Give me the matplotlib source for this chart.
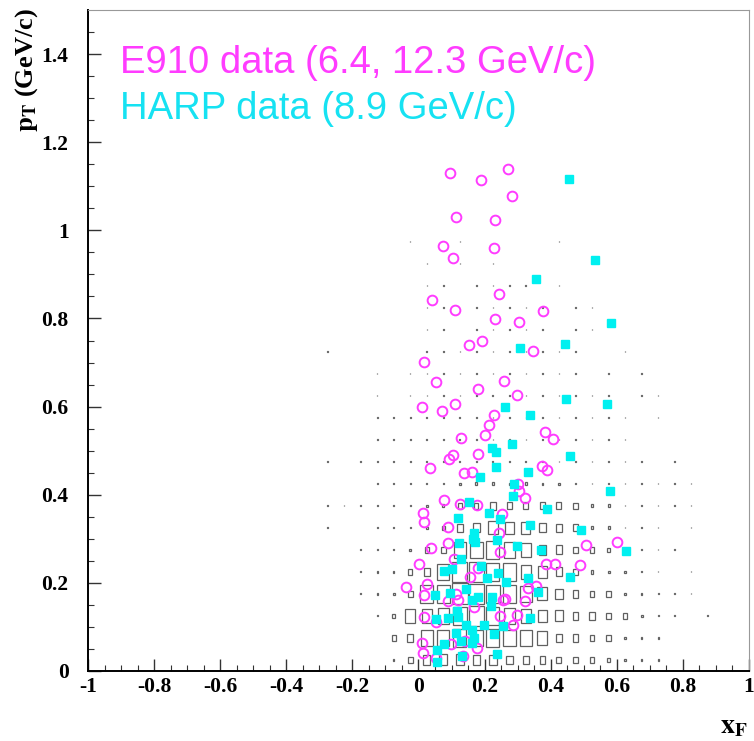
import numpy as np
import matplotlib
matplotlib.use('Agg')
import matplotlib.pyplot as plt
from matplotlib.patches import Rectangle

plt.rcParams['mathtext.fontset'] = 'stix'

# E910 data points (xF, pT)
e910_xf = [0.095, 0.188, 0.271, 0.283, 0.112, 0.231, 0.073, 0.228, 0.103, 0.042,
           0.245, 0.110, 0.231, 0.305, 0.377, 0.152, 0.192, 0.016, 0.345, 0.052,
           0.258, 0.180, 0.297, 0.010, 0.072, 0.109, 0.228, 0.214, 0.201, 0.130,
           0.382, 0.406, 0.103, 0.092, 0.180, 0.036, 0.138, 0.161, 0.373, 0.388,
           0.301, 0.304, 0.321, 0.077, 0.125, 0.176, 0.014, 0.016, 0.254, 0.089,
           0.245, 0.089, 0.039, 0.107, 0.248, 0.002, 0.179, 0.155, 0.026, -0.037,
           0.113, 0.017, 0.119, 0.257, 0.090, 0.168, 0.248, 0.016, 0.299, 0.052,
           0.285, 0.097, 0.142, 0.178, 0.134, 0.010, 0.014, 0.052, 0.507, 0.600,
           0.387, 0.413, 0.488, 0.332, 0.357, 0.321, 0.261]
e910_pt = [1.129, 1.114, 1.139, 1.077, 1.030, 1.023, 0.964, 0.961, 0.937, 0.843,
           0.855, 0.820, 0.798, 0.792, 0.818, 0.740, 0.750, 0.702, 0.727, 0.655,
           0.659, 0.641, 0.627, 0.598, 0.591, 0.605, 0.580, 0.559, 0.535, 0.529,
           0.542, 0.526, 0.491, 0.480, 0.493, 0.460, 0.449, 0.452, 0.466, 0.456,
           0.425, 0.408, 0.393, 0.389, 0.378, 0.377, 0.358, 0.339, 0.357, 0.327,
           0.313, 0.290, 0.280, 0.255, 0.270, 0.243, 0.233, 0.213, 0.197, 0.191,
           0.174, 0.172, 0.161, 0.161, 0.159, 0.145, 0.124, 0.122, 0.126, 0.111,
           0.105, 0.061, 0.067, 0.052, 0.033, 0.063, 0.040, 0.029, 0.286, 0.293,
           0.243, 0.243, 0.240, 0.188, 0.193, 0.159, 0.164]

# HARP data points (xF, pT)
harp_xf = [0.456, 0.534, 0.355, 0.582, 0.307, 0.442, 0.262, 0.447, 0.570, 0.337,
           0.284, 0.223, 0.233, 0.236, 0.458, 0.185, 0.332, 0.289, 0.286, 0.579,
           0.152, 0.214, 0.120, 0.246, 0.390, 0.168, 0.122, 0.166, 0.172, 0.239,
           0.336, 0.491, 0.130, 0.188, 0.077, 0.100, 0.242, 0.208, 0.266, 0.298,
           0.372, 0.627, 0.330, 0.457, 0.363, 0.145, 0.049, 0.094, 0.163, 0.181,
           0.221, 0.218, 0.116, 0.121, 0.054, 0.089, 0.145, 0.199, 0.336, 0.257,
           0.227, 0.163, 0.169, 0.112, 0.130, 0.077, 0.055, 0.161, 0.239, 0.132,
           0.055]
harp_pt = [1.117, 0.932, 0.889, 0.789, 0.733, 0.743, 0.600, 0.618, 0.605, 0.580,
           0.514, 0.505, 0.496, 0.464, 0.488, 0.440, 0.451, 0.424, 0.398, 0.408,
           0.383, 0.358, 0.348, 0.345, 0.368, 0.313, 0.290, 0.299, 0.292, 0.298,
           0.332, 0.319, 0.254, 0.239, 0.227, 0.232, 0.222, 0.212, 0.203, 0.284,
           0.275, 0.272, 0.212, 0.213, 0.180, 0.186, 0.173, 0.177, 0.161, 0.169,
           0.168, 0.148, 0.137, 0.123, 0.118, 0.120, 0.104, 0.104, 0.120, 0.103,
           0.084, 0.092, 0.074, 0.087, 0.069, 0.061, 0.048, 0.063, 0.039, 0.033,
           0.021]

# simulated distribution, relative box size per bin (rows: pT bins, cols: xF bins)
xf_bins = np.arange(-0.275, 0.9, 0.05)
pt_bins = np.arange(0.025, 1.0, 0.05)
box_size = [
    [0, 0, 0, 0, .05, .3, .45, .5, .5, .45, .45, .4, .35, .35, .3, .25, .25, .2, .12, .05, .05, 0, .04, 0],
    [0, 0, 0, 0, .25, .35, .7, .75, .8, .75, .8, .75, .7, .6, .4, .35, .3, .25, .12, .06, .05, 0, .04, 0],
    [0, 0, 0, .04, .18, .6, .6, .7, .85, .9, .8, .7, .65, .55, .5, .35, .35, .3, .25, .12, .05, .04, 0, .04],
    [0, 0, .04, .06, .12, .3, .8, .8, .95, .9, .85, .8, .7, .6, .45, .35, .25, .25, .12, .06, .05, .04, .04, 0],
    [0, 0, .04, .06, .09, .25, .35, .75, .9, .9, .8, .8, .65, .55, .4, .3, .18, .12, .09, .05, .04, 0, .04, 0],
    [0, 0, .04, .05, .06, .09, .25, .3, .7, .75, .8, .7, .65, .45, .4, .25, .25, .18, .06, .05, .04, .04, 0, 0],
    [.04, 0, 0, .05, .05, .05, .09, .18, .35, .4, .6, .55, .55, .4, .35, .3, .12, .12, .05, .05, .04, 0, .04, 0],
    [.04, .03, .03, .04, .04, .05, .09, .12, .25, .25, .35, .33, .3, .3, .3, .25, .12, .12, .05, .04, .03, .03, .03, 0],
    [0, 0, 0, .04, .04, .04, .05, .06, .09, .12, .12, .09, .12, .09, .09, .06, .05, .05, .04, .04, .04, .03, .03, 0],
    [.05, 0, .03, .04, .04, .04, .04, .06, .04, .05, .05, .05, .05, .05, .05, .05, .04, .04, .04, .06, 0, .03, 0, 0],
    [0, 0, 0, .04, .04, .04, .04, .04, .04, .04, .04, .04, .04, .04, .04, .04, .04, .04, .04, 0, 0, 0, 0, 0],
    [0, 0, 0, .05, .04, .04, .04, .04, .04, .04, .04, .04, .04, .04, .04, .04, .04, .04, .04, 0, .03, 0, 0, 0],
    [0, 0, 0, .03, 0, .03, .03, .05, .03, .03, .05, .03, .03, .03, .03, .05, .03, .03, 0, .03, .03, 0, 0, 0],
    [0, 0, 0, .03, 0, .03, .03, .05, .03, .03, .03, .03, .03, .03, .03, .03, 0, .03, 0, .03, 0, 0, 0, 0],
    [.03, 0, 0, 0, 0, 0, .05, .03, .03, .03, .03, .03, .03, .03, .03, .03, 0, 0, .05, 0, 0, 0, 0, 0],
    [0, 0, 0, 0, 0, 0, .03, .03, 0, .05, .03, .03, .03, .03, 0, .05, .03, 0, 0, 0, 0, 0, 0, 0],
    [0, 0, 0, 0, 0, 0, .03, .03, 0, .03, .03, .03, .03, .03, 0, .05, .03, 0, 0, 0, 0, 0, 0, 0],
    [0, 0, 0, 0, 0, 0, .03, .03, 0, .03, .03, .03, .05, 0, .03, 0, 0, 0, 0, 0, 0, 0, 0, 0],
    [0, 0, 0, 0, 0, 0, .03, 0, .03, 0, .03, 0, 0, 0, 0, 0, 0, 0, 0, 0, 0, 0, 0, 0],
    [0, 0, 0, 0, 0, .03, 0, 0, .03, 0, 0, 0, 0, 0, .03, 0, 0, 0, 0, 0, 0, 0, 0, 0],
]

fig = plt.figure(figsize=(7.54, 7.41), dpi=100)
ax = fig.add_axes([88 / 754, 70 / 741, 661 / 754, 661 / 741])

bw = 0.05
for i, pt in enumerate(pt_bins):
    for j, xf in enumerate(xf_bins):
        s = box_size[i][j]
        if s <= 0:
            continue
        w = s * bw
        ax.add_patch(Rectangle((xf - w / 2, pt - w / 2), w, w, fill=False,
                               edgecolor='#606060', lw=0.9))

ax.plot(e910_xf, e910_pt, 'o', mfc='none', mec='#ff3cff', mew=1.4, ms=7, ls='none')
ax.plot(harp_xf, harp_pt, 's', mfc='#00f0f0', mec='#00f0f0', ms=5.8, ls='none')

ax.set_xlim(-1, 1)
ax.set_ylim(0, 1.5)
ax.set_xticks(np.arange(-1, 1.01, 0.2))
ax.set_xticks(np.arange(-1, 1.01, 0.05), minor=True)
ax.set_yticks(np.arange(0, 1.41, 0.2))
ax.set_yticks(np.arange(0, 1.5, 0.05), minor=True)
ax.set_xticklabels(['-1', '-0.8', '-0.6', '-0.4', '-0.2', '0', '0.2', '0.4', '0.6', '0.8', '1'])
ax.set_yticklabels(['0', '0.2', '0.4', '0.6', '0.8', '1', '1.2', '1.4'])
for lab in ax.get_xticklabels() + ax.get_yticklabels():
    lab.set_fontfamily('Liberation Serif')
    lab.set_fontweight('bold')
    lab.set_fontsize(15.5)
ax.tick_params(which='major', direction='in', length=9, width=1.0, color='#333333')
ax.tick_params(which='minor', direction='in', length=4, width=0.8, color='#333333')
ax.tick_params(axis='y', pad=14)
ax.tick_params(axis='x', pad=4)
ax.spines['left'].set_linewidth(1.4)
ax.spines['bottom'].set_linewidth(1.4)
for s in ['top', 'right']:
    ax.spines[s].set_linewidth(0.8)
    ax.spines[s].set_color('#999999')

fig.text(27 / 754, 1 - 8 / 741, r'$\mathbf{p_T}$ (GeV/c)', rotation=90, ha='center', va='top',
         fontsize=19, fontweight='bold', family='Liberation Serif')
fig.text(748 / 754, 1 - 733 / 741, r'$\mathbf{x_F}$', ha='right', va='baseline', fontsize=20)

fig.text(120 / 754, 1 - 73 / 741, 'E910 data (6.4, 12.3 GeV/c)', color='#ff3cff',
         fontsize=27.5, family='Liberation Sans', va='baseline')
fig.text(120 / 754, 1 - 119 / 741, 'HARP data (8.9 GeV/c)', color='#16e2f2',
         fontsize=27.5, family='Liberation Sans', va='baseline')

plt.savefig('out.png', dpi=100)
